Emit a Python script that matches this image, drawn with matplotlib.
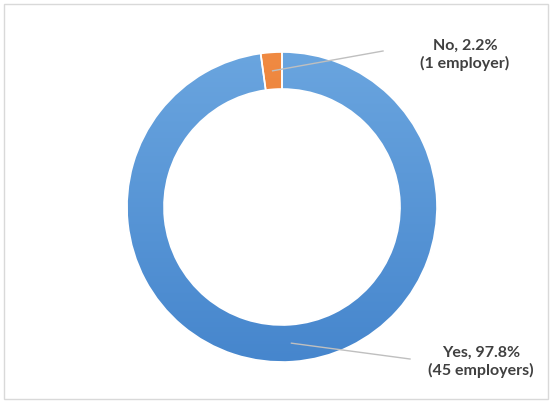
import numpy as np
import matplotlib
matplotlib.use("Agg")
import matplotlib.pyplot as plt
from matplotlib.colors import LinearSegmentedColormap
from matplotlib.patches import Rectangle, Wedge

# Share of employers answering the survey question
categories = ["Yes", "No"]
shares = [97.8, 2.2]
counts = [45, 1]
units = ["employers", "employer"]

plt.rcParams["font.family"] = ["Lato", "DejaVu Sans"]

W, H = 555, 407
fig = plt.figure(figsize=(W / 100, H / 100), dpi=100)
ax = fig.add_axes([0, 0, 1, 1])
ax.axis("off")

# light frame around the chart area
ax.add_patch(Rectangle((4, 8), 544, 395, fill=False, edgecolor="#d9d9d9", lw=1.0))

cx, cy, R, ring = 282, 200, 155, 37
wedges, _ = ax.pie(shares, startangle=90, counterclock=False, center=(cx, cy),
                   radius=R, colors=["#5b9bd5", "#ed7d31"],
                   wedgeprops=dict(width=ring, edgecolor="white", linewidth=1.2))
ax.set_xlim(0, W)
ax.set_ylim(0, H)
ax.set_aspect("equal")

# soft vertical shading inside each wedge
gradients = [("#6aa5df", "#4686cd"), ("#f08a42", "#e3722a")]
for w, (top, bot) in zip(wedges, gradients):
    cmap = LinearSegmentedColormap.from_list("shade", [bot, top])
    grad = np.linspace(0, 1, 256).reshape(-1, 1)
    im = ax.imshow(grad, cmap=cmap, origin="lower", aspect="auto",
                   extent=(cx - R, cx + R, cy - R, cy + R), zorder=w.get_zorder() + 0.1)
    im.set_clip_path(w)

# white separators drawn on top of the shading
for w in wedges:
    ax.add_patch(Wedge((cx, cy), R, w.theta1, w.theta2, width=ring,
                       facecolor="none", edgecolor="white", lw=1.2, zorder=5))

# labels with leader lines (positions in figure pixels, y measured upward)
label_pos = {"Yes": (481, 45), "No": (465, 352)}
line_end = {"Yes": (410, 48), "No": (383, 356)}
for w, cat, s, n, u in zip(wedges, categories, shares, counts, units):
    mid = np.deg2rad((w.theta1 + w.theta2) / 2)
    rmid = R - ring / 2
    sx, sy = cx + rmid * np.cos(mid), cy + rmid * np.sin(mid)
    ex, ey = line_end[cat]
    ax.plot([sx, ex], [sy, ey], color="#bfbfbf", lw=1.0, zorder=6)
    tx, ty = label_pos[cat]
    ax.text(tx, ty, f"{cat}, {s}%\n({n} {u})", ha="center", va="center",
            fontsize=11.5, fontweight="bold", color="#404040",
            linespacing=1.25, zorder=7)

fig.savefig("out.png", dpi=100)
